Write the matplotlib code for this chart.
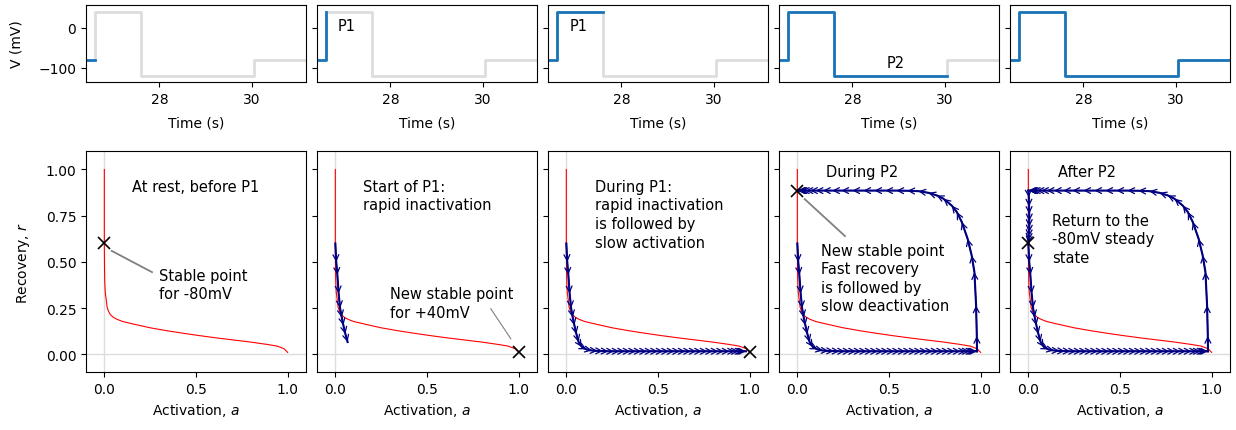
import numpy as np
import matplotlib
matplotlib.use('Agg')
from matplotlib import pyplot as plt

# protokol napieciowy (czas w s, napiecie w mV)
t_prot = [26.41, 26.6, 26.6, 27.59, 27.59, 30.04, 30.04, 31.17]
v_prot = [-80, -80, 40, 40, -120, -120, -80, -80]
ile_pkt = [2, 3, 4, 6, 8]  # ile punktow protokolu na niebiesko w kazdym panelu

# krzywa czerwona (a, r)
a_null = [0.0, 0.0, 0.001, 0.002, 0.005, 0.011, 0.015, 0.022, 0.033, 0.05, 0.069, 0.1, 0.16,
          0.25, 0.342, 0.433, 0.524, 0.615, 0.706, 0.797, 0.888, 0.943, 0.98, 1.0]
r_null = [1.0, 0.6, 0.47, 0.4, 0.337, 0.29, 0.256, 0.235, 0.215, 0.2, 0.19, 0.178, 0.164,
          0.144, 0.128, 0.114, 0.101, 0.089, 0.078, 0.067, 0.054, 0.045, 0.031, 0.011]

# trajektoria w trakcie P1
a_p1 = [0.0, 0.005, 0.011, 0.018, 0.026, 0.035, 0.044, 0.055, 0.067, 0.085, 0.11, 0.14,
        0.17, 0.2, 0.23, 0.26, 0.29, 0.32, 0.35, 0.38, 0.41, 0.44, 0.47, 0.5, 0.53,
        0.56, 0.59, 0.62, 0.65, 0.68, 0.71, 0.74, 0.77, 0.8, 0.83, 0.86, 0.89, 0.92,
        0.94, 0.96, 0.97, 0.98]
r_p1 = [0.6, 0.5, 0.43, 0.33, 0.25, 0.2, 0.157, 0.11, 0.067, 0.04, 0.027, 0.021,
        0.019, 0.018, 0.017, 0.017, 0.017, 0.017, 0.017, 0.017, 0.017, 0.017, 0.017, 0.017, 0.017,
        0.017, 0.017, 0.017, 0.017, 0.017, 0.017, 0.017, 0.017, 0.017, 0.017, 0.017, 0.017, 0.017,
        0.017, 0.017, 0.017, 0.017]
ile_start = 9  # poczatek P1 (panel 2)

# trajektoria w trakcie P2
a_p2 = [0.98, 0.979, 0.975, 0.966, 0.951, 0.929, 0.897, 0.87, 0.842, 0.797, 0.76, 0.715,
        0.66, 0.6, 0.54, 0.48, 0.42, 0.36, 0.3, 0.24, 0.19, 0.14, 0.1, 0.07, 0.045, 0.025,
        0.012, 0.005, 0.0]
r_p2 = [0.017, 0.1, 0.265, 0.445, 0.535, 0.625, 0.716, 0.77, 0.805, 0.842, 0.86, 0.874,
        0.883, 0.885, 0.886, 0.886, 0.886, 0.886, 0.886, 0.886, 0.886, 0.886, 0.886, 0.886,
        0.886, 0.886, 0.886, 0.886, 0.886]

# po P2
a_po = [0.0, 0.003, 0.004, 0.005, 0.005, 0.005, 0.004, 0.003, 0.002, 0.0]
r_po = [0.886, 0.85, 0.8, 0.76, 0.72, 0.69, 0.66, 0.635, 0.615, 0.6]

punkty_stabilne = [(0.0, 0.6), (1.0, 0.015), (1.0, 0.015), (0.0, 0.886), (0.0, 0.6)]

tytuly = [
    (0.15, 0.95, 'At rest, before P1'),
    (0.15, 0.95, 'Start of P1:\nrapid inactivation'),
    (0.157, 0.95, 'During P1:\nrapid inactivation\nis followed by\nslow activation'),
    (0.157, 1.03, 'During P2'),
    (0.16, 1.03, 'After P2'),
]
opisy = [
    (0.3, 0.47, 'Stable point\nfor -80mV', (0.04, 0.56), (0.26, 0.445)),
    (0.3, 0.37, 'New stable point\nfor +40mV', (0.957, 0.085), (0.848, 0.247)),
    None,
    (0.127, 0.605, 'New stable point\nFast recovery\nis followed by\nslow deactivation', (0.04, 0.84), (0.26, 0.64)),
    (0.13, 0.767, 'Return to the\n-80mV steady\nstate', None, None),
]
etykiety_top = [None, (27.06, 6, 'P1'), (27.08, 6, 'P1'), (28.93, -87, 'P2'), None]

NIEBIESKI = '#1a75b8'
SZARY = '#dddddd'


def strzalki(ax, a, r):
    ax.plot(a, r, color='navy', lw=1.5, zorder=3)
    for i in range(len(a) - 1):
        ax.annotate('', xy=(a[i + 1], r[i + 1]), xytext=(a[i], r[i]),
                    arrowprops=dict(arrowstyle='->,head_length=0.6,head_width=0.3',
                                    color='navy', lw=0.9, shrinkA=0, shrinkB=0,
                                    mutation_scale=7), zorder=3)


fig = plt.figure(figsize=(12.36, 4.31), dpi=100)
W, H = 1236, 431

for k in range(5):
    lewo = (86 + 231 * k) / W
    ax1 = fig.add_axes([lewo, 1 - 83 / H, 220 / W, 77 / H])
    ax2 = fig.add_axes([lewo, 1 - 373 / H, 220 / W, 221 / H])

    ############################################ GORA: protokol
    ax1.plot(t_prot, v_prot, color=SZARY, lw=2)
    n = ile_pkt[k]
    ax1.plot(t_prot[:n], v_prot[:n], color=NIEBIESKI, lw=2)
    ax1.set_xlim(26.41, 31.17)
    ax1.set_ylim(-135, 57)
    ax1.set_xticks([28, 30])
    ax1.set_yticks([0, -100])
    ax1.set_xlabel('Time (s)', labelpad=7)
    if k == 0:
        ax1.set_ylabel('V (mV)', labelpad=11)
    else:
        ax1.set_yticklabels([])
    if etykiety_top[k] is not None:
        tx, ty, s = etykiety_top[k]
        ax1.text(tx, ty, s, ha='center', va='center', fontsize=10.5)

    ############################################ DOL: plaszczyzna fazowa
    ax2.axvline(0, color=SZARY, lw=1, zorder=0)
    ax2.axhline(0, color=SZARY, lw=1, zorder=0)
    ax2.plot(a_null, r_null, color='red', lw=0.8, zorder=2)
    if k == 1:
        strzalki(ax2, a_p1[:ile_start], r_p1[:ile_start])
    elif k >= 2:
        strzalki(ax2, a_p1, r_p1)
    if k >= 3:
        strzalki(ax2, a_p2, r_p2)
    if k == 4:
        strzalki(ax2, a_po, r_po)
    px, py = punkty_stabilne[k]
    ax2.plot(px, py, 'kx', ms=8, mew=1.2, zorder=5)

    tx, ty, s = tytuly[k]
    ax2.text(tx, ty, s, ha='left', va='top', fontsize=10.5, linespacing=1.3)
    if opisy[k] is not None:
        ox, oy, s, p0, p1 = opisy[k]
        ax2.text(ox, oy, s, ha='left', va='top', fontsize=10.5, linespacing=1.3)
        if p0 is not None:
            ax2.plot([p0[0], p1[0]], [p0[1], p1[1]], color='grey', lw=1.3 if k != 1 else 0.8)

    ax2.set_xlim(-0.1, 1.1)
    ax2.set_ylim(-0.095, 1.1)
    ax2.set_xticks([0.0, 0.5, 1.0])
    ax2.set_yticks([0.0, 0.25, 0.5, 0.75, 1.0])
    ax2.set_xlabel('Activation, $a$')
    if k == 0:
        ax2.set_ylabel('Recovery, $r$', labelpad=10)
    else:
        ax2.set_yticklabels([])

fig.savefig('out.png', dpi=100)
